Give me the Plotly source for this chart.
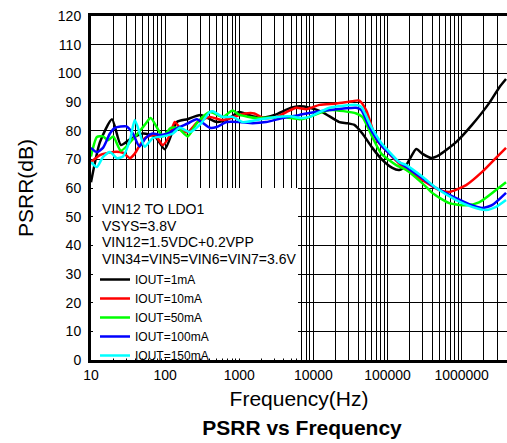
import plotly.graph_objects as go

# ---- data ----
f_1mA = [10, 13.2, 19.2, 25.3, 33.5, 50, 73, 99, 144, 200, 300, 500, 700, 1000, 1500, 2000, 3000, 5000, 6500, 8900,
         13200, 22400, 28700, 35700, 45800, 62400, 85100, 116000, 144000, 179000, 244000, 294000, 388000, 498000,
         843000, 1380000, 2350000, 3200000, 3970000]
db_1mA = [62, 76, 84, 75, 77, 79, 78, 73.5, 83, 84, 85.5, 83, 84, 86.5, 85, 84.5, 85.5, 88, 88.5, 88,
          86.5, 83, 82.6, 82, 79, 74, 69.8, 67, 66.3, 68, 73.6, 72, 70.5, 71.5,
          76, 82, 89.6, 95, 98]

f_10mA = [10, 13.2, 20, 27, 33.5, 39, 53, 73, 93, 116, 135, 170, 202, 275, 400, 600, 1200, 1600, 2100, 3200, 4340,
          5900, 8070, 12100, 20500, 33600, 41700, 51800, 70600, 96300, 144000, 179000, 294000, 498000, 680000,
          1150000, 1890000, 2910000, 3970000]
db_10mA = [69, 71.5, 72.6, 72.3, 70.4, 72, 77.4, 78.5, 75, 78.5, 83, 80, 79.5, 83, 84.8, 83.7, 86, 86, 84.4, 84.8, 86.5,
           88, 87.5, 89, 89.5, 90.3, 90.5, 87, 77, 73, 68.5, 66.5, 62.8, 59.3, 58.6,
           61, 65.6, 70.5, 74]

f_50mA = [10, 12, 14.5, 17, 20, 25.3, 39, 53, 64, 93, 119, 148, 202, 267, 400, 598, 815, 1010, 1710, 3840, 6500,
          8070, 16500, 38000, 45800, 62400, 82500, 131000, 179000, 294000, 401000, 680000, 1150000, 1720000,
          2910000, 3970000]
db_50mA = [71, 77.8, 78, 76.7, 78, 73, 77.8, 82, 84.4, 78, 81, 81, 78, 82.6, 86.5, 84.8, 87, 85.5, 84.4, 84.8, 84,
           84.4, 87.2, 86, 84.8, 77.8, 72, 68, 66.3, 61.7, 58.3, 54.7, 54, 55,
           59.3, 62]

f_100mA = [10, 12, 14.5, 18, 21, 30, 36.7, 45, 55, 68, 85, 109, 148, 202, 267, 400, 496, 677, 1010, 1510, 2290,
           3840, 6500, 8070, 16500, 38000, 44400, 56800, 77600, 106000, 144000, 179000, 294000, 454000, 843000,
           1380000, 1890000, 2570000, 3970000]
db_100mA = [74, 72.5, 74, 79, 81, 81.5, 79, 74.5, 77.5, 79, 78.5, 79, 81, 82.5, 84, 81, 81.3, 83, 83, 82.6, 83,
            84.4, 85.5, 86, 87.2, 88, 87.2, 81.3, 75.7, 72, 69, 67.3, 63.5, 60, 56.5,
            54, 53, 54, 58.3]

f_150mA = [10, 12, 14.5, 18, 22.4, 27, 33.5, 39, 45.6, 53, 68, 93, 127, 158, 215, 293, 400, 439, 598, 815, 1110,
           1710, 3190, 4770, 7130, 8860, 16500, 38000, 44400, 60500, 82500, 116000, 144000, 179000, 294000, 454000,
           843000, 1380000, 2140000, 2910000, 3970000]
db_150mA = [69, 67.3, 70.8, 72.6, 70.4, 71, 76.7, 83.7, 79, 74.4, 77.4, 78, 79, 81, 79.5, 82, 86.5, 86.8, 84.8, 84.8, 83,
            83.7, 84.8, 85, 84.4, 84.8, 88, 89, 88.3, 81.3, 75.7, 71.5, 69, 68, 64, 60,
            55.8, 53.4, 52.3, 53.4, 55.8]

series_names = ["IOUT=1mA", "IOUT=10mA", "IOUT=50mA", "IOUT=100mA", "IOUT=150mA"]
series_colors = ["#000000", "#FF0000", "#00FF00", "#0000FF", "#00FFFF"]
series_x = [f_1mA, f_10mA, f_50mA, f_100mA, f_150mA]
series_y = [db_1mA, db_10mA, db_50mA, db_100mA, db_150mA]

x_tick_vals = [10, 100, 1000, 10000, 100000, 1000000]
x_tick_text = ["10", "100", "1000", "10000", "100000", "1000000"]
y_tick_vals = list(range(0, 121, 10))

header_lines = ["VIN12 TO LDO1", "VSYS=3.8V", "VIN12=1.5VDC+0.2VPP", "VIN34=VIN5=VIN6=VIN7=3.6V"]

FONT = "Liberation Sans, Arial, sans-serif"

# plot area in pixels
W, H = 507, 443
L, R, T, B = 91, 0, 16, 83
PW, PH = W - L - R, H - T - B


def py(px_y):
    """pixel y (from top) -> paper y"""
    return (H - B - px_y) / PH


def px(px_x):
    return (px_x - L) / PW


fig = go.Figure()
for xs, ys, name, col in zip(series_x, series_y, series_names, series_colors):
    fig.add_trace(go.Scatter(x=xs, y=ys, mode="lines", name=name,
                             line=dict(color=col, width=2.5, shape="spline", smoothing=0.6)))

fig.update_layout(
    width=W, height=H,
    margin=dict(l=L, r=R, t=T, b=B, autoexpand=False),
    paper_bgcolor="white", plot_bgcolor="white",
    font=dict(family=FONT, size=14, color="black"),
    showlegend=True,
    legend=dict(x=px(95), xanchor="left", y=py(265), yanchor="top", bgcolor="rgba(0,0,0,0)",
                font=dict(size=12, family=FONT), borderwidth=0, tracegroupgap=0),
    title=dict(text="<b>PSRR vs Frequency</b>", x=302 / W, xanchor="center", y=1 - 428 / H,
               yanchor="middle", yref="container", font=dict(size=21, family=FONT)),
)

fig.update_xaxes(type="log", range=[1, 6.612], automargin=False,
                 tickmode="array", tickvals=x_tick_vals, ticktext=x_tick_text,
                 ticks="", ticklabelstandoff=0,
                 showgrid=True, gridcolor="black", gridwidth=1,
                 minor=dict(dtick="D1", showgrid=True, gridcolor="black", gridwidth=1, ticks=""),
                 showline=True, linecolor="black", linewidth=3, mirror=True,
                 tickfont=dict(size=14),
                 title=dict(text="Frequency(Hz)", font=dict(size=21), standoff=10),
                 zeroline=False)
fig.update_yaxes(range=[0, 120], tickmode="array", tickvals=y_tick_vals, automargin=False,
                 ticks="outside", ticklen=4, tickcolor="rgba(0,0,0,0)",
                 showgrid=True, gridcolor="black", gridwidth=1,
                 showline=True, linecolor="black", linewidth=3, mirror=True,
                 tickfont=dict(size=14),
                 title=dict(text="PSRR(dB)", font=dict(size=21), standoff=19),
                 zeroline=False)

# white box behind the annotation block (hides the gridlines there)
fig.add_shape(type="rect", xref="paper", yref="paper", x0=px(93), x1=px(298), y0=py(358.5), y1=py(188),
              fillcolor="white", line=dict(width=0), layer="above")

header_y = [209, 225.5, 242, 258.5]
for txt, yy in zip(header_lines, header_y):
    fig.add_annotation(text=txt, xref="paper", yref="paper",
                       x=px(100), y=py(yy), xanchor="left", yanchor="middle", align="left",
                       showarrow=False, font=dict(size=14, family=FONT))

# remove the browser's default page margin so the figure fills the window
fig.write_html("out.html", config={"displayModeBar": False},
               post_script="document.body.style.margin='0';document.body.style.overflow='hidden';")
